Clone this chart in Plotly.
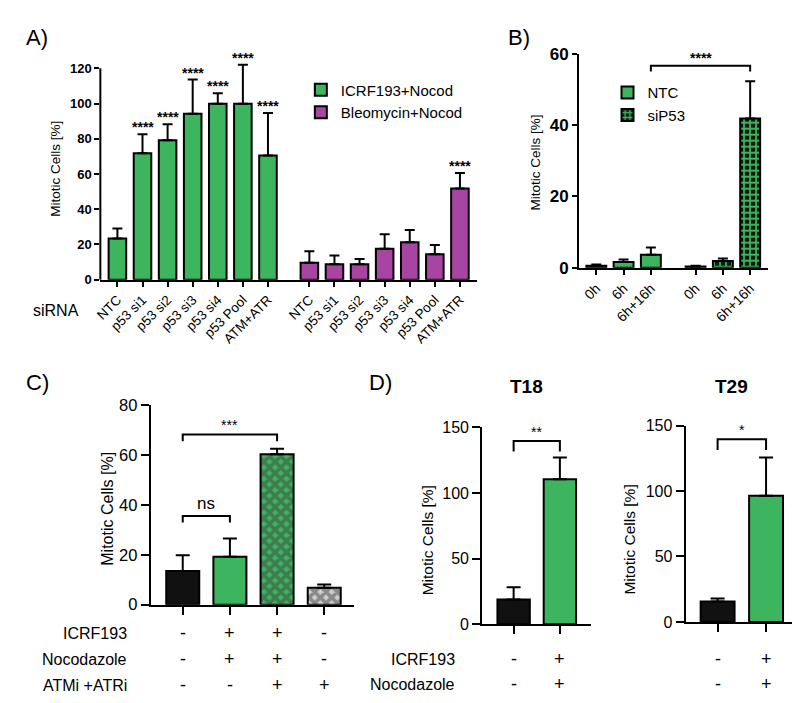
import plotly.graph_objects as go

W, H = 800, 703
FONT = "Liberation Sans"
GREEN = "#3db55e"
MAGENTA = "#a845a3"
DARK = "#0b1a0f"

# ---------------- Panel A data ----------------
a_cats = ["NTC", "p53 si1", "p53 si2", "p53 si3", "p53 si4", "p53 Pool", "ATM+ATR"]
a_icrf = [23.4, 71.8, 79.1, 94.2, 99.8, 99.9, 70.5]
a_icrf_err = [5.7, 10.8, 9.1, 19.4, 6.0, 22.1, 24.1]
a_icrf_sig = ["", "****", "****", "****", "****", "****", "****"]
a_bleo = [9.6, 8.8, 8.8, 17.5, 21.3, 14.5, 51.7]
a_bleo_err = [6.6, 5.0, 3.0, 8.3, 6.9, 5.2, 8.9]
a_bleo_sig = ["", "", "", "", "", "", "****"]
a_yticks = [0, 20, 40, 60, 80, 100, 120]

# ---------------- Panel B data ----------------
b_cats = ["0h", "6h", "6h+16h"]
b_ntc = [0.55, 1.6, 3.64]
b_ntc_err = [0.35, 0.7, 2.0]
b_sip53 = [0.36, 1.9, 41.8]
b_sip53_err = [0.2, 0.7, 10.5]
b_yticks = [0, 20, 40, 60]

# ---------------- Panel C data ----------------
c_vals = [13.5, 19.2, 60.3, 6.8]
c_err = [6.3, 7.3, 2.2, 1.3]
c_rows = ["ICRF193", "Nocodazole", "ATMi +ATRi"]
c_table = [["-", "+", "+", "-"], ["-", "+", "+", "-"], ["-", "-", "+", "+"]]
c_yticks = [0, 20, 40, 60, 80]

# ---------------- Panel D data ----------------
d_t18 = [18.8, 110.5]
d_t18_err = [9.4, 16.5]
d_t29 = [15.6, 96.5]
d_t29_err = [2.3, 29.2]
d_rows = ["ICRF193", "Nocodazole"]
d_table = [["-", "+"], ["-", "+"]]
d_yticks = [0, 50, 100, 150]


def xd(l, r):
    return [l / W, r / W]


def yd(top, bottom):
    return [1 - bottom / H, 1 - top / H]


def py(p):
    return 1 - p / H


def px(p):
    return p / W


fig = go.Figure()

# positions (layout)
GAP_A = 1.65
a_pos_g = [i for i in range(len(a_cats))]
a_pos_m = [len(a_cats) - 1 + GAP_A + i for i in range(len(a_cats))]
GAP_B = 1.64
b_pos_n = [i for i in range(len(b_cats))]
b_pos_s = [len(b_cats) - 1 + GAP_B + i for i in range(len(b_cats))]
c_pos = list(range(len(c_vals)))
d_pos = list(range(len(d_t18)))

# Panel A: axis drawn to 120, plotting range extended for error bars / stars
A_TOP = a_yticks[-1]
A_RANGE_TOP = 132
A_ZERO_PX, A_TOP_PX = 270, 52.7
A_RANGE_TOP_PX = A_ZERO_PX - (A_ZERO_PX - A_TOP_PX) * A_RANGE_TOP / A_TOP


def err(arr, w=5):
    return dict(type="data", array=arr, arrayminus=[0] * len(arr), symmetric=False,
                color="black", thickness=2, width=w)


line = dict(color="black", width=2)

# Panel A
fig.add_trace(go.Bar(x=a_pos_g, y=a_icrf, width=0.7, name="ICRF193+Nocod",
                     marker=dict(color=GREEN, line=line), error_y=err(a_icrf_err),
                     xaxis="x", yaxis="y", legend="legend", cliponaxis=False))
fig.add_trace(go.Bar(x=a_pos_m, y=a_bleo, width=0.7, name="Bleomycin+Nocod",
                     marker=dict(color=MAGENTA, line=line), error_y=err(a_bleo_err),
                     xaxis="x", yaxis="y", legend="legend", cliponaxis=False))
# Panel B
fig.add_trace(go.Bar(x=b_pos_n, y=b_ntc, width=0.73, name="NTC",
                     marker=dict(color=GREEN, line=line), error_y=err(b_ntc_err),
                     xaxis="x2", yaxis="y2", legend="legend2", cliponaxis=False))
fig.add_trace(go.Bar(x=b_pos_s, y=b_sip53, width=0.73, name="siP53",
                     marker=dict(color=GREEN, line=line,
                                 pattern=dict(shape="+", bgcolor=DARK, fgcolor=GREEN,
                                              size=6, solidity=0.5, fillmode="replace")),
                     error_y=err(b_sip53_err),
                     xaxis="x2", yaxis="y2", legend="legend2", cliponaxis=False))
# Panel C
fig.add_trace(go.Bar(x=c_pos, y=c_vals, width=0.7, showlegend=False,
                     marker=dict(color=["#111111", GREEN, GREEN, "#d0d0d0"], line=line,
                                 pattern=dict(shape=["", "", "x", "x"],
                                              fgcolor=DARK, size=8, solidity=0.72)),
                     error_y=err(c_err, 7), xaxis="x3", yaxis="y3", cliponaxis=False))
# Panel D
fig.add_trace(go.Bar(x=d_pos, y=d_t18, width=0.7, showlegend=False,
                     marker=dict(color=["#111111", GREEN], line=line),
                     error_y=err(d_t18_err, 7), xaxis="x4", yaxis="y4", cliponaxis=False))
fig.add_trace(go.Bar(x=d_pos, y=d_t29, width=0.7, showlegend=False,
                     marker=dict(color=["#111111", GREEN], line=line),
                     error_y=err(d_t29_err, 7), xaxis="x5", yaxis="y5", cliponaxis=False))


def xax(dom, rng, tickvals, ticktext=None, size=12, angle=-45, ticklen=5):
    return dict(domain=dom, range=rng, showgrid=False, zeroline=False, showline=True,
                linecolor="black", linewidth=2, ticks="outside", ticklen=ticklen, tickwidth=2,
                tickcolor="black", tickvals=tickvals, ticktext=ticktext,
                showticklabels=ticktext is not None, tickangle=angle,
                tickfont=dict(family=FONT, size=size, color="black"), fixedrange=True)


def yax(dom, rng, tickvals, anchor, size=12, bold=False, ticklen=5, showline=True):
    return dict(domain=dom, range=rng, showgrid=False, zeroline=False, showline=showline,
                linecolor="black", linewidth=2, ticks="outside", ticklen=ticklen, tickwidth=2,
                tickcolor="black", tickvals=tickvals, anchor=anchor,
                tickfont=dict(family=FONT, size=size, color="black",
                              weight="bold" if bold else "normal"), fixedrange=True)


fig.update_layout(
    width=W, height=H, margin=dict(l=0, r=0, t=0, b=0),
    paper_bgcolor="white", plot_bgcolor="white", barmode="overlay",
    font=dict(family=FONT, color="black"),
    xaxis=dict(xax(xd(87, 467), [-0.68, a_pos_m[-1] + 0.7], a_pos_g + a_pos_m,
                   a_cats + a_cats, 13.5), anchor="y"),
    yaxis=yax(yd(A_RANGE_TOP_PX, A_ZERO_PX), [0, A_RANGE_TOP], a_yticks, "x", 13, True,
              showline=False),
    xaxis2=dict(xax(xd(569.3, 760), [-0.633, b_pos_s[-1] + 0.665], b_pos_n + b_pos_s,
                    b_cats + b_cats, 14), anchor="y2"),
    yaxis2=yax(yd(37.7, 257.7), [0, 60], b_yticks, "x2", 17, True),
    xaxis3=dict(xax(xd(137.7, 343), [-0.68, 3.64], c_pos, None, ticklen=8), anchor="y3"),
    yaxis3=yax(yd(399, 604), [0, 80], c_yticks, "x3", 16.5, False, 8),
    xaxis4=dict(xax(xd(471.7, 581.7), [-0.68, 1.68], d_pos, None, ticklen=8), anchor="y4"),
    yaxis4=yax(yd(421.7, 624), [0, 150], d_yticks, "x4", 16, False, 8),
    xaxis5=dict(xax(xd(676.7, 789), [-0.66, 1.64], d_pos, None, ticklen=8), anchor="y5"),
    yaxis5=yax(yd(420, 621.7), [0, 150], d_yticks, "x5", 16, False, 8),
    legend=dict(x=px(289), y=py(58), xanchor="left", yanchor="top", bgcolor="rgba(0,0,0,0)",
                font=dict(family=FONT, size=15), tracegroupgap=0),
    legend2=dict(x=px(598), y=py(61), xanchor="left", yanchor="top", bgcolor="rgba(0,0,0,0)",
                 font=dict(family=FONT, size=15), tracegroupgap=0),
)

ann = []


def text(x, y, t, size, xref="paper", yref="paper", xanchor="center", yanchor="middle",
         angle=0, bold=False, yshift=0):
    ann.append(dict(x=x, y=y, text=t, xref=xref, yref=yref, xanchor=xanchor, yanchor=yanchor,
                    textangle=angle, showarrow=False, yshift=yshift,
                    font=dict(family=FONT, size=size, color="black",
                              weight="bold" if bold else "normal")))


# Panel letters
text(px(10), py(21), "A)", 22, xanchor="left")
text(px(496), py(21), "B)", 22, xanchor="left")
text(px(10), py(376), "C)", 22, xanchor="left")
text(px(356), py(376), "D)", 22, xanchor="left")

# Axis titles
text(px(41.7), py(155.5), "Mitotic Cells [%]", 13.5, angle=-90)
text(px(525), py(149.5), "Mitotic Cells [%]", 13.5, angle=-90)
text(px(94.3), py(505.8), "Mitotic Cells [%]", 16, angle=-90)
text(px(416.7), py(538.3), "Mitotic Cells [%]", 15.5, angle=-90)
text(px(620), py(536.7), "Mitotic Cells [%]", 15.5, angle=-90)
text(px(17), py(301.7), "siRNA", 16, xanchor="left")

# D titles
text(px(516.7), py(380), "T18", 19, bold=True)
text(px(723.3), py(380), "T29", 19, bold=True)

# Stars A
for pos, v, e, s in zip(a_pos_g + a_pos_m, a_icrf + a_bleo, a_icrf_err + a_bleo_err,
                        a_icrf_sig + a_bleo_sig):
    if s:
        text(pos, v + e, s, 14, xref="x", yref="y", yanchor="bottom", yshift=-3, bold=True)

shapes = []
# Panel A y-axis line, only up to the top tick
shapes.append(dict(type="line", xref="x domain", yref="y domain", x0=0, x1=0,
                   y0=0, y1=A_TOP / A_RANGE_TOP, line=dict(color="black", width=2)))


def bracket(xr, yr, x0, x1, ytop, ybot, label, size, yshift, bold=False):
    shapes.append(dict(type="path", xref=xr, yref=yr,
                       path=f"M{x0},{ybot} L{x0},{ytop} L{x1},{ytop} L{x1},{ybot}",
                       line=dict(color="black", width=2)))
    text((x0 + x1) / 2, ytop, label, size, xref=xr, yref=yr, yanchor="bottom", yshift=yshift,
         bold=bold)


bracket("x2", "y2", b_pos_n[-1], b_pos_s[-1], 56.6, 55.0, "****", 14, -2, True)
bracket("x3", "y3", c_pos[0], c_pos[1], 35.6, 33.0, "ns", 17, 1)
bracket("x3", "y3", c_pos[0], c_pos[2], 68.3, 65.5, "***", 14, -1)
bracket("x4", "y4", d_pos[0], d_pos[1], 139.6, 131.5, "**", 14, -1)
bracket("x5", "y5", d_pos[0], d_pos[1], 139.6, 131.4, "*", 14, -1)

# Table C
c_row_y = [633.3, 660, 686.7]
for r, lab, vals in zip(c_row_y, c_rows, c_table):
    text(px(116), py(r), lab, 16, xanchor="right")
    for pos, v in zip(c_pos, vals):
        text(pos, py(r), v, 18, xref="x3")

# Table D
d_row_y = [660, 685.7]
for r, lab, vals in zip(d_row_y, d_rows, d_table):
    text(px(446.7), py(r), lab, 16, xanchor="right")
    for pos, v in zip(d_pos, vals):
        text(pos, py(r), v, 18, xref="x4")
        text(pos, py(r), v, 18, xref="x5")

fig.update_layout(annotations=ann, shapes=shapes)
fig.write_html("out.html")
